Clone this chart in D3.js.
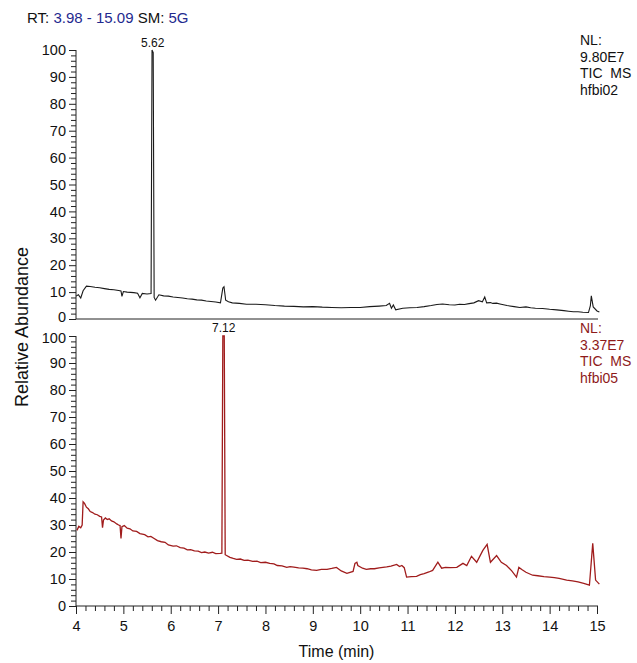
<!DOCTYPE html>
<html>
<head>
<meta charset="utf-8">
<script src="https://cdn.jsdelivr.net/npm/d3@7"></script>
<style>
  body { margin: 0; background: #fff; }
  svg { font-family: "Liberation Sans", Arial, sans-serif; }
  .axis path, .axis line { stroke: #222; }
  .axis text { font-size: 14.5px; fill: #111; }
</style>
</head>
<body>
<svg id="chart" width="637" height="663"></svg>
<script>
// retention time (min) and relative abundance
const topTime = [4.00, 4.05, 4.10, 4.15, 4.22, 4.30, 4.40, 4.50, 4.60, 4.70, 4.80, 4.90, 4.95, 4.97, 5.00, 5.08, 5.15, 5.22, 5.30, 5.35, 5.40, 5.50, 5.585, 5.605, 5.63, 5.65, 5.68, 5.75, 5.85, 5.95, 6.05, 6.15, 6.25, 6.35, 6.45, 6.55, 6.65, 6.75, 6.85, 6.95, 7.05, 7.10, 7.125, 7.16, 7.22, 7.30, 7.45, 7.60, 7.80, 8.00, 8.20, 8.40, 8.60, 8.80, 9.00, 9.20, 9.40, 9.60, 9.80, 10.00, 10.20, 10.40, 10.55, 10.62, 10.66, 10.70, 10.75, 10.90, 11.05, 11.20, 11.35, 11.50, 11.62, 11.74, 11.88, 12.00, 12.10, 12.20, 12.30, 12.40, 12.50, 12.58, 12.63, 12.67, 12.75, 12.80, 12.88, 12.95, 13.10, 13.25, 13.37, 13.50, 13.60, 13.70, 13.85, 14.00, 14.15, 14.30, 14.40, 14.50, 14.60, 14.70, 14.82, 14.86, 14.88, 14.92, 15.00, 15.05]
const topValue = [8.5, 9.0, 7.8, 10.5, 12.2, 12.1, 11.8, 11.6, 11.3, 11.0, 10.9, 10.6, 10.4, 8.4, 10.2, 10.0, 9.9, 9.8, 9.6, 7.9, 9.5, 9.3, 9.5, 100, 99, 8.0, 7.0, 9.0, 8.6, 8.5, 8.2, 8.0, 7.8, 7.5, 7.4, 7.1, 7.0, 6.7, 6.5, 6.3, 6.0, 11.5, 12.0, 7.0, 6.4, 6.0, 5.8, 5.5, 5.5, 5.3, 5.0, 4.8, 4.7, 4.5, 4.6, 4.4, 4.3, 4.2, 4.3, 4.3, 4.6, 4.8, 5.0, 5.8, 4.0, 5.2, 3.4, 4.0, 4.2, 4.3, 4.6, 5.0, 5.4, 5.6, 5.3, 5.2, 5.5, 5.4, 5.7, 6.0, 6.8, 6.4, 8.2, 6.0, 6.1, 5.8, 5.9, 5.6, 5.0, 4.6, 4.3, 4.5, 4.2, 4.0, 3.9, 3.6, 3.4, 3.1, 2.9, 2.7, 2.7, 2.5, 2.4, 5.0, 8.6, 4.5, 3.0, 2.6]

const bottomTime = [4.02, 4.06, 4.10, 4.13, 4.15, 4.18, 4.22, 4.26, 4.30, 4.35, 4.40, 4.45, 4.50, 4.54, 4.56, 4.58, 4.62, 4.66, 4.70, 4.75, 4.80, 4.86, 4.90, 4.93, 4.95, 4.97, 5.02, 5.08, 5.14, 5.20, 5.28, 5.35, 5.45, 5.52, 5.58, 5.65, 5.72, 5.80, 5.88, 5.95, 6.05, 6.12, 6.20, 6.28, 6.35, 6.42, 6.50, 6.58, 6.65, 6.72, 6.80, 6.88, 6.95, 7.04, 7.08, 7.10, 7.13, 7.15, 7.18, 7.25, 7.32, 7.39, 7.47, 7.55, 7.63, 7.73, 7.82, 7.90, 8.00, 8.09, 8.18, 8.25, 8.35, 8.45, 8.52, 8.60, 8.70, 8.79, 8.88, 8.97, 9.08, 9.18, 9.30, 9.40, 9.50, 9.60, 9.72, 9.85, 9.89, 9.93, 9.95, 10.05, 10.13, 10.22, 10.30, 10.40, 10.48, 10.56, 10.65, 10.77, 10.83, 10.88, 10.93, 10.98, 11.08, 11.19, 11.27, 11.35, 11.45, 11.53, 11.64, 11.72, 11.80, 11.90, 12.04, 12.17, 12.25, 12.35, 12.46, 12.59, 12.68, 12.75, 12.88, 12.98, 13.09, 13.20, 13.30, 13.35, 13.42, 13.50, 13.64, 13.75, 13.88, 14.00, 14.10, 14.20, 14.36, 14.48, 14.60, 14.72, 14.84, 14.91, 14.97, 15.05]
const bottomValue = [28.0, 29.5, 29.0, 30.0, 38.6, 38.0, 36.6, 36.0, 35.0, 34.6, 34.0, 33.8, 33.2, 33.0, 29.0, 31.8, 32.6, 32.0, 32.3, 31.5, 31.2, 30.4, 30.0, 29.8, 25.0, 29.4, 29.8, 28.8, 28.6, 27.8, 27.6, 26.8, 26.4, 25.6, 25.8, 25.0, 24.2, 23.8, 23.6, 22.6, 22.2, 22.3, 21.6, 21.4, 20.8, 20.9, 20.4, 20.3, 19.8, 20.0, 19.6, 19.9, 19.4, 19.5, 19.6, 100, 100, 19.0, 18.7, 18.0, 17.6, 17.3, 17.4, 16.9, 17.0, 16.5, 16.6, 16.1, 16.2, 15.8, 15.6, 15.0, 14.9, 14.3, 14.6, 14.4, 14.1, 14.0, 13.8, 13.4, 13.2, 13.6, 13.6, 13.9, 14.3, 13.0, 12.1, 12.8, 15.8, 16.2, 15.0, 14.0, 13.6, 13.8, 13.8, 14.1, 14.3, 14.5, 14.8, 15.4, 14.6, 15.0, 14.2, 10.7, 10.9, 11.0, 11.6, 12.0, 12.6, 13.2, 16.2, 14.0, 14.3, 14.2, 14.3, 15.8, 15.0, 18.4, 16.2, 20.6, 22.8, 16.2, 18.7, 16.2, 15.0, 13.0, 10.7, 14.3, 13.4, 12.5, 11.4, 11.2, 10.9, 10.7, 10.5, 10.2, 9.6, 9.3, 8.9, 8.4, 7.7, 23.2, 9.6, 8.1]

const xTicks = [4, 5, 6, 7, 8, 9, 10, 11, 12, 13, 14, 15]
const yTicks = [0, 10, 20, 30, 40, 50, 60, 70, 80, 90, 100]
const topInfo = ['NL:', '9.80E7', 'TIC  MS', 'hfbi02']
const bottomInfo = ['NL:', '3.37E7', 'TIC  MS', 'hfbi05']

const svg = d3.select('#chart')

const x = d3.scaleLinear().domain([4, 15]).range([76, 597])
const yTop = d3.scaleLinear().domain([0, 100]).range([319, 50])
const yBottom = d3.scaleLinear().domain([0, 100]).range([606, 336])

const minorY = d3.range(0, 101, 2)
const minorX = d3.range(4, 15.01, 0.2).map(d => Math.round(d * 10) / 10)

// y axis with long ticks every 10 and short every 2
function drawYAxis(yscale) {
  const g = svg.append('g').attr('class', 'axis')
    .attr('transform', `translate(${x.range()[0]}, 0)`)
  g.call(d3.axisLeft(yscale).tickValues(minorY).tickSize(5)
    .tickFormat(d => yTicks.includes(d) ? d : ''))
  g.select('.domain').remove()
  g.selectAll('.tick line').attr('x2', d => yTicks.includes(d) ? -7 : -5)
  g.selectAll('.tick text').attr('x', -10)
  g.append('line')
    .attr('x1', 0).attr('x2', 0)
    .attr('y1', yscale(0)).attr('y2', yscale(100))
    .attr('stroke', '#222')
  return g
}

const topAxis = drawYAxis(yTop)
const bottomAxis = drawYAxis(yBottom)
// keep the two labels at the panel seam apart
topAxis.selectAll('.tick text').filter(d => d === 0).attr('dy', '0.2em')
bottomAxis.selectAll('.tick text').filter(d => d === 100).attr('dy', '0.42em')

// top panel baseline, no ticks
svg.append('line')
  .attr('x1', x(4)).attr('x2', x(15) + 1)
  .attr('y1', yTop(0)).attr('y2', yTop(0))
  .attr('stroke', '#222')

// bottom time axis
const xg = svg.append('g').attr('class', 'axis')
  .attr('transform', `translate(0, ${yBottom(0)})`)
xg.call(d3.axisBottom(x).tickValues(minorX).tickSize(5)
  .tickFormat(d => xTicks.includes(d) ? d : ''))
xg.select('.domain').remove()
xg.selectAll('.tick line').attr('y2', d => xTicks.includes(d) ? 8 : 5)
xg.selectAll('.tick text').attr('y', 15)
xg.append('line')
  .attr('x1', x(4)).attr('x2', x(15) + 1)
  .attr('stroke', '#222')

// traces
const topLine = d3.line().x((d, i) => x(topTime[i])).y(d => yTop(d))
svg.append('path')
  .attr('d', topLine(topValue))
  .attr('fill', 'none')
  .attr('stroke', '#1a1a1a')
  .attr('stroke-width', 1.1)

const bottomLine = d3.line().x((d, i) => x(bottomTime[i])).y(d => yBottom(d))
svg.append('path')
  .attr('d', bottomLine(bottomValue))
  .attr('fill', 'none')
  .attr('stroke', '#a01c1c')
  .attr('stroke-width', 1.3)

// peak labels
svg.append('text').attr('x', x(5.62)).attr('y', 47)
  .attr('text-anchor', 'middle').attr('font-size', 12).attr('fill', '#111')
  .text('5.62')
svg.append('text').attr('x', x(7.12)).attr('y', 332)
  .attr('text-anchor', 'middle').attr('font-size', 12).attr('fill', '#111')
  .text('7.12')

// header
const header = svg.append('text').attr('x', 27).attr('y', 23).attr('font-size', 15)
header.append('tspan').attr('fill', '#111').text('RT: ')
header.append('tspan').attr('fill', '#1f2a8f').text('3.98 - 15.09')
header.append('tspan').attr('fill', '#111').text(' SM: ')
header.append('tspan').attr('fill', '#1f2a8f').text('5G')

// NL boxes
function drawInfo(lines, y0, color) {
  svg.selectAll(null).data(lines).enter().append('text')
    .attr('x', 580)
    .attr('y', (d, i) => y0 + i * 16.7)
    .attr('font-size', 14)
    .attr('fill', color)
    .style('white-space', 'pre')
    .text(d => d)
}
drawInfo(topInfo, 45, '#111')
drawInfo(bottomInfo, 333, '#8e1a1a')

// axis titles
svg.append('text')
  .attr('transform', 'translate(28, 327) rotate(-90)')
  .attr('text-anchor', 'middle').attr('font-size', 18).attr('fill', '#111')
  .text('Relative Abundance')
svg.append('text')
  .attr('x', x(9.5)).attr('y', 657)
  .attr('text-anchor', 'middle').attr('font-size', 16).attr('fill', '#111')
  .text('Time (min)')
</script>
</body>
</html>
